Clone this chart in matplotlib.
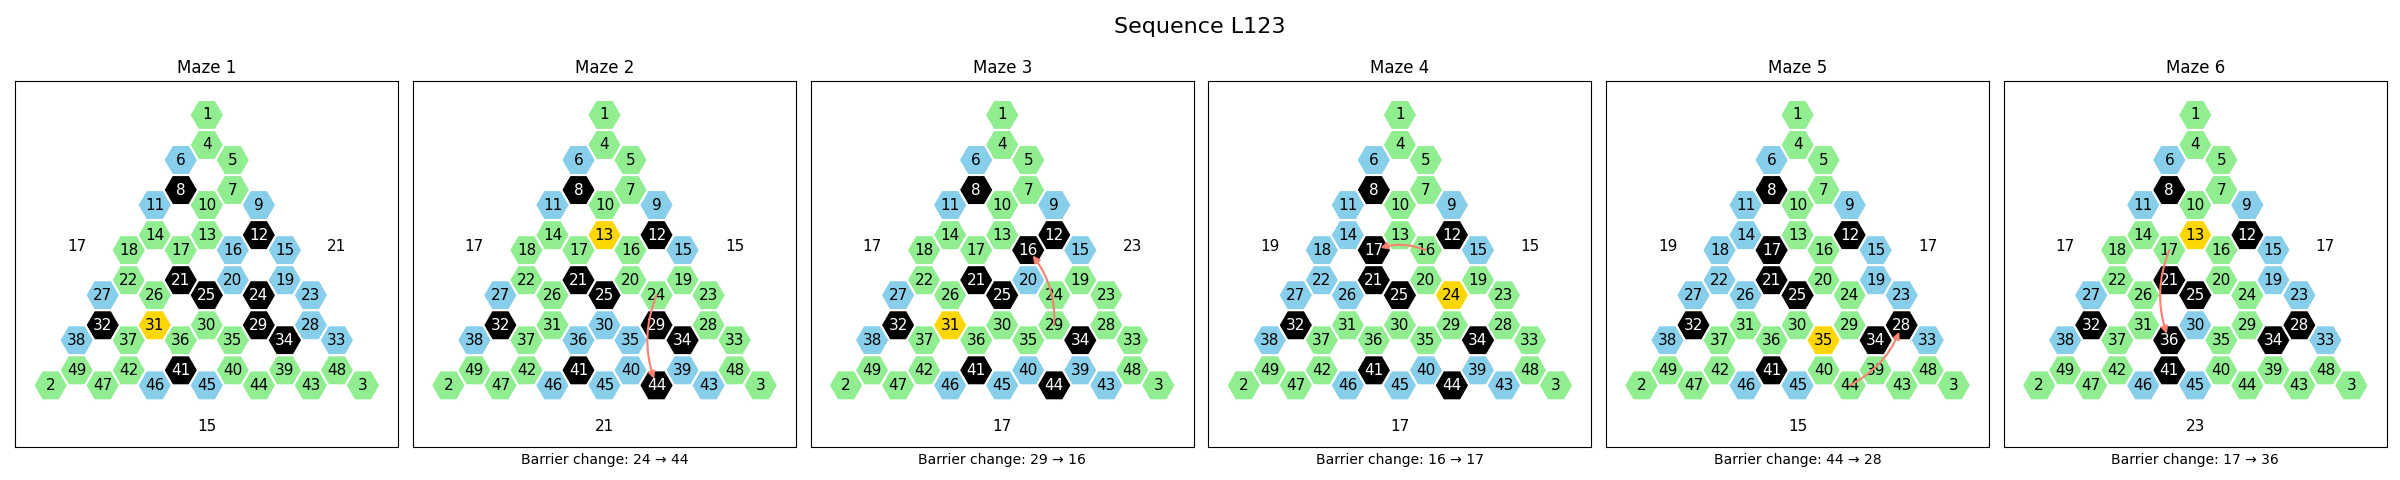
import numpy as np
import matplotlib.pyplot as plt
from matplotlib.patches import RegularPolygon

# layout of the triangular hex maze: node ids per row and the half-row each row sits on
row_halfrows = [0, 2, 3, 5, 6, 8, 9, 11, 12, 14, 15, 17, 18]
row_nodes = [[1], [4], [6, 5], [8, 7], [11, 10, 9], [14, 13, 12],
             [18, 17, 16, 15], [22, 21, 20, 19], [27, 26, 25, 24, 23],
             [32, 31, 30, 29, 28], [38, 37, 36, 35, 34, 33],
             [49, 42, 41, 40, 39, 48], [2, 47, 46, 45, 44, 43, 3]]

maze_titles = ["Maze 1", "Maze 2", "Maze 3", "Maze 4", "Maze 5", "Maze 6"]
barriers = [[8, 12, 21, 24, 25, 29, 32, 34, 41],
            [8, 12, 21, 25, 29, 32, 34, 41, 44],
            [8, 12, 16, 21, 25, 32, 34, 41, 44],
            [8, 12, 17, 21, 25, 32, 34, 41, 44],
            [8, 12, 17, 21, 25, 28, 32, 34, 41],
            [8, 12, 21, 25, 28, 32, 34, 36, 41]]
goals = [31, 13, 31, 24, 35, 13]
blue_nodes = [[6, 9, 11, 15, 16, 19, 20, 23, 27, 28, 33, 38, 45, 46],
              [6, 9, 11, 15, 27, 30, 35, 36, 38, 39, 40, 43, 45, 46],
              [6, 9, 11, 15, 20, 27, 38, 39, 40, 43, 45, 46],
              [6, 9, 11, 14, 15, 18, 22, 26, 27, 38, 39, 40, 43, 45, 46],
              [6, 9, 11, 14, 15, 18, 19, 22, 23, 26, 27, 33, 38, 45, 46],
              [6, 9, 11, 15, 19, 23, 27, 30, 33, 38, 45, 46]]
side_left = [17, 17, 17, 19, 19, 17]
side_right = [21, 15, 23, 15, 17, 17]
side_bottom = [15, 21, 17, 17, 15, 23]
change_from = [None, 24, 29, 16, 44, 17]
change_to = [None, 44, 16, 17, 28, 36]

R = 1.0
h = np.sqrt(3) / 2 * R

# hex centres
pos = {}
for hr, nodes in zip(row_halfrows, row_nodes):
    n = len(nodes)
    for k, node in enumerate(nodes):
        col = -(n - 1) + 2 * k
        pos[node] = (col * 1.5 * R, -hr * h)

fig = plt.figure(figsize=(24, 4.8), dpi=100)
fig.suptitle("Sequence L123", fontsize=16, y=1 - 33.3 / 480, va="baseline")

for i in range(6):
    ax = fig.add_axes([(15.3 + i * 397.7) / 2400, 32.7 / 480, 383 / 2400, 366 / 480])
    for node, (x, y) in pos.items():
        if node in barriers[i]:
            fc = "black"
        elif node == goals[i]:
            fc = "gold"
        elif node in blue_nodes[i]:
            fc = "skyblue"
        else:
            fc = "lightgreen"
        ax.add_patch(RegularPolygon((x, y), numVertices=6, radius=R,
                                    orientation=np.pi / 6, facecolor=fc,
                                    edgecolor="white", linewidth=1.5))
        ax.text(x, y, str(node), ha="center", va="center", fontsize=11,
                color="white" if fc == "black" else "black")

    # numbers on the three sides
    ax.text(-7.5, -7.56, str(side_left[i]), ha="center", va="center", fontsize=11)
    ax.text(7.5, -7.56, str(side_right[i]), ha="center", va="center", fontsize=11)
    ax.text(0, -17.95, str(side_bottom[i]), ha="center", va="center", fontsize=11)

    if change_from[i] is not None:
        ax.annotate("", xy=pos[change_to[i]], xytext=pos[change_from[i]],
                    arrowprops=dict(arrowstyle="-|>", color="salmon", lw=1.5,
                                    shrinkA=0, shrinkB=5,
                                    connectionstyle="arc3,rad=0.2"))
        ax.set_xlabel(f"Barrier change: {change_from[i]} \u2192 {change_to[i]}", fontsize=10)

    ax.set_title(maze_titles[i])
    ax.set_xlim(-11.04, 11.04)
    ax.set_ylim(-19.16, 1.94)
    ax.set_xticks([])
    ax.set_yticks([])

fig.savefig("out.png", dpi=100)
